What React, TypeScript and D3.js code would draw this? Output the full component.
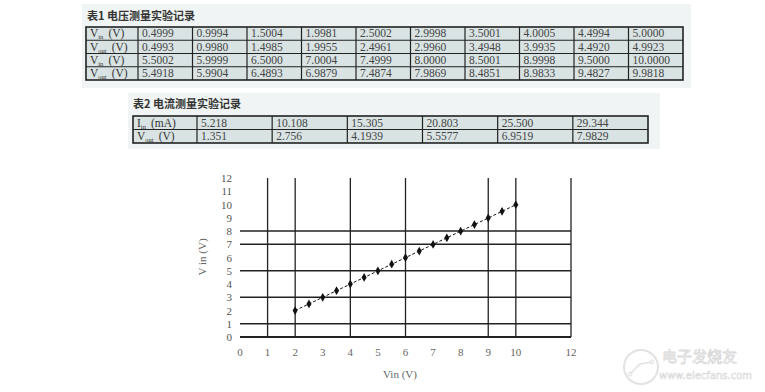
import React from 'react';
import * as d3 from 'd3';

// Table 1: voltage measurements
const vinLow = [0.4999, 0.9994, 1.5004, 1.9981, 2.5002, 2.9998, 3.5001, 4.0005, 4.4994, 5.0];
const voutLow = [0.4993, 0.998, 1.4985, 1.9955, 2.4961, 2.996, 3.4948, 3.9935, 4.492, 4.9923];
const vinHigh = [5.5002, 5.9999, 6.5, 7.0004, 7.4999, 8.0, 8.5001, 8.9998, 9.5, 10.0];
const voutHigh = [5.4918, 5.9904, 6.4893, 6.9879, 7.4874, 7.9869, 8.4851, 8.9833, 9.4827, 9.9818];

// Table 2: current measurements
const iin = ['5.218', '10.108', '15.305', '20.803', '25.500', '29.344'];
const vout2 = ['1.351', '2.756', '4.1939', '5.5577', '6.9519', '7.9829'];

// chart axes
const xTicks = [0, 1, 2, 3, 4, 5, 6, 7, 8, 9, 10, 12];
const yTicks = [0, 1, 2, 3, 4, 5, 6, 7, 8, 9, 10, 11, 12];
const xGrid = [1, 2, 4, 6, 9, 10, 12];
const yGrid = [1, 3, 5, 7, 8];

const serif = '"Liberation Serif", "DejaVu Serif", serif';
const cjk = '"Noto Sans CJK SC", sans-serif';

const fmt4 = (v: number) => v.toFixed(4);

type Label = { main: string; sub: string; unit: string };

const RowLabel = ({ l, x, y }: { l: Label; x: number; y: number }) => (
  <text x={x} y={y} fontFamily={serif} fontSize={11.5} fill="#333">
    {l.main}
    <tspan fontSize={6.5} dy={2}>{l.sub}</tspan>
    <tspan dy={-2} dx={5}>({l.unit})</tspan>
  </text>
);

const Table = ({
  x0, x1, y0, y1, firstW, labels, rows,
}: {
  x0: number; x1: number; y0: number; y1: number; firstW: number;
  labels: Label[]; rows: string[][];
}) => {
  const cols = d3.scaleBand<number>().domain(d3.range(rows[0].length)).range([x0 + firstW, x1]);
  const ry = d3.scaleBand<number>().domain(d3.range(rows.length)).range([y0, y1]);
  const bh = ry.bandwidth();
  return (
    <g>
      <rect x={x0} y={y0} width={x1 - x0} height={y1 - y0} fill="#d9e3e3" />
      {rows.map((r, i) => (
        <g key={i}>
          <RowLabel l={labels[i]} x={x0 + 4} y={ry(i)! + bh - 3} />
          {r.map((v, j) => (
            <text key={j} x={cols(j)! + 4} y={ry(i)! + bh - 3} fontFamily={serif} fontSize={11.5} fill="#444">
              {v}
            </text>
          ))}
        </g>
      ))}
      {d3.range(1, rows.length).map(i => (
        <line key={'h' + i} x1={x0} x2={x1} y1={ry(i)} y2={ry(i)} stroke="#222" strokeWidth={1.2} />
      ))}
      {d3.range(rows[0].length).map(j => (
        <line key={'v' + j} x1={cols(j)} x2={cols(j)} y1={y0} y2={y1} stroke="#222" strokeWidth={1.2} />
      ))}
      <rect x={x0} y={y0} width={x1 - x0} height={y1 - y0} fill="none" stroke="#222" strokeWidth={1.6} />
    </g>
  );
};

export default function App() {
  const x = d3.scaleLinear().domain([0, 12]).range([240, 571]);
  const y = d3.scaleLinear().domain([0, 12]).range([337, 178]);

  const pts = vinLow.map((v, i) => [v, voutLow[i]] as [number, number])
    .concat(vinHigh.map((v, i) => [v, voutHigh[i]] as [number, number]))
    .filter(d => d[0] >= 1.9);
  const line = d3.line<[number, number]>().x(d => x(d[0])).y(d => y(d[1]));
  const diamond = d3.symbol().type(d3.symbolDiamond).size(22)()!;

  const t1Rows = [vinLow, voutLow, vinHigh, voutHigh].map(r => r.map(fmt4));
  const t1Labels: Label[] = [
    { main: 'V', sub: 'in', unit: 'V' },
    { main: 'V', sub: 'out', unit: 'V' },
    { main: 'V', sub: 'in', unit: 'V' },
    { main: 'V', sub: 'out', unit: 'V' },
  ];
  const t2Labels: Label[] = [
    { main: 'I', sub: 'in', unit: 'mA' },
    { main: 'V', sub: 'out', unit: 'V' },
  ];

  return (
    <svg width={765} height={392} style={{ position: 'absolute', left: 0, top: 0, background: '#fff' }}>
      {/* table panels */}
      <rect x={82} y={4} width={609} height={84} fill="#f0f4f4" />
      <text x={87} y={20} fontFamily={cjk} fontWeight={700} fontSize={11} fill="#333">表1 电压测量实验记录</text>
      <Table x0={86} x1={683} y0={27} y1={80} firstW={52} labels={t1Labels} rows={t1Rows} />

      <rect x={128} y={93} width={532} height={56} fill="#f0f4f4" />
      <text x={133} y={108} fontFamily={cjk} fontWeight={700} fontSize={11} fill="#333">表2 电流测量实验记录</text>
      <Table x0={133} x1={648} y0={116} y1={143} firstW={64} labels={t2Labels} rows={[iin, vout2]} />

      {/* chart grid */}
      {yGrid.map(v => (
        <line key={'gy' + v} x1={x(0)} x2={x(12)} y1={y(v)} y2={y(v)} stroke="#222" strokeWidth={1.3} />
      ))}
      {xGrid.map(v => (
        <line key={'gx' + v} x1={x(v)} x2={x(v)} y1={y(12)} y2={y(0)} stroke="#222" strokeWidth={1.3} />
      ))}
      <line x1={x(0)} x2={x(12)} y1={y(0)} y2={y(0)} stroke="#222" strokeWidth={2} />

      {/* series */}
      <path d={line(pts)!} fill="none" stroke="#111" strokeWidth={1} strokeDasharray="3,2" />
      {pts.map((d, i) => (
        <path key={i} d={diamond} transform={`translate(${x(d[0])},${y(d[1])})`} fill="#111" />
      ))}

      {/* axis labels */}
      {xTicks.map(v => (
        <text key={'tx' + v} x={x(v)} y={356} textAnchor="middle" fontFamily={serif} fontSize={11} fill="#666">{v}</text>
      ))}
      {yTicks.map(v => (
        <text key={'ty' + v} x={232} y={y(v) + 4} textAnchor="end" fontFamily={serif} fontSize={11} fill="#555">{v}</text>
      ))}
      <text x={400} y={378} textAnchor="middle" fontFamily={serif} fontSize={11} fill="#666">Vin (V)</text>
      <text transform="translate(206,257) rotate(-90)" textAnchor="middle" fontFamily={serif} fontSize={11} fill="#666">V in (V)</text>

      {/* watermark */}
      <g opacity={0.55}>
        <circle cx={641} cy={367} r={17} fill="#fff" stroke="#ccc" strokeWidth={2} />
        <path d="M630,374 L640,364 L652,362" fill="none" stroke="#ccc" strokeWidth={1.5} />
        <circle cx={630} cy={374} r={2} fill="none" stroke="#ccc" />
        <circle cx={652} cy={362} r={2} fill="none" stroke="#ccc" />
        <text x={662} y={362} fontFamily={cjk} fontSize={15} fill="#fff" stroke="#bbb" strokeWidth={0.8}>电子发烧友</text>
        <text x={659} y={379} fontFamily={'"DejaVu Sans", sans-serif'} fontSize={10} fill="#fff" stroke="#bbb" strokeWidth={0.6}>www.elecfans.com</text>
      </g>
    </svg>
  );
}
